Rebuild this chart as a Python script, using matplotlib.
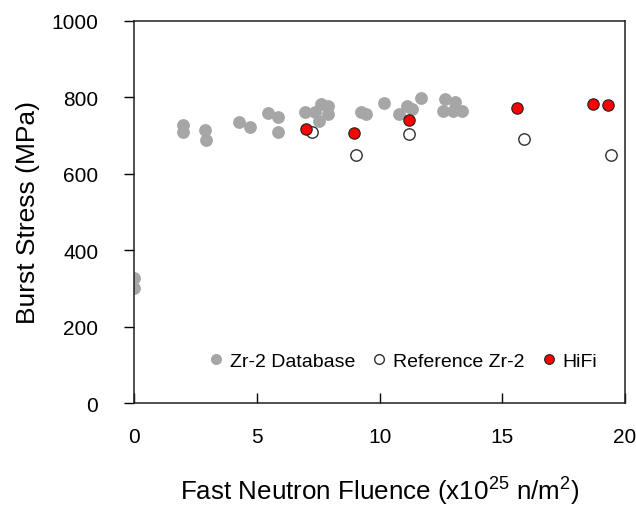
import matplotlib
matplotlib.use("Agg")
import matplotlib.pyplot as plt

fam = ['Liberation Sans', 'DejaVu Sans']
plt.rcParams['font.family'] = fam
plt.rcParams['mathtext.fontset'] = 'custom'
plt.rcParams['mathtext.rm'] = 'Liberation Sans'
plt.rcParams['mathtext.default'] = 'regular'

# Zr-2 database
db_x = [0.0, 0.0, 1.97, 1.97, 2.88, 2.92, 4.28, 4.72, 5.44, 5.85, 5.85,
        6.96, 7.36, 7.6, 7.91, 7.91, 7.54, 9.24, 9.44, 10.18, 10.77, 11.1,
        11.3, 11.67, 12.67, 13.07, 12.6, 13.0, 13.35]
db_y = [326, 300, 727, 709, 714, 688, 735, 721, 758, 747, 708,
        762, 760, 782, 777, 756, 738, 760, 755, 784, 756, 777,
        769, 797, 795, 788, 764, 764, 764]
# Reference Zr-2
ref_x = [7.23, 9.04, 11.2, 15.9, 19.43]
ref_y = [709, 648, 703, 690, 648]
# HiFi
hifi_x = [7.0, 8.96, 11.21, 15.61, 18.71, 19.32]
hifi_y = [716, 706, 741, 771, 782, 779]

fig = plt.figure(figsize=(6.36, 5.10), dpi=100)
ax = fig.add_axes([0.2112, 0.2078, 0.9827 - 0.2112, 0.9575 - 0.2078])

ax.plot(db_x, db_y, 'o', ms=8.2, color='#a6a6a6', mec='#a6a6a6', label='Zr-2 Database')
ax.plot(ref_x, ref_y, 'o', ms=8.2, mfc='white', mec='#303030', mew=1.0, label='Reference Zr-2')
ax.plot(hifi_x, hifi_y, 'o', ms=8.2, mfc='#ff0000', mec='#202020', mew=0.8, label='HiFi')

ax.set_xlim(0, 20)
ax.set_ylim(0, 1000)
ax.set_xticks([0, 5, 10, 15, 20])
ax.set_yticks([0, 200, 400, 600, 800, 1000])
ax.tick_params(axis='x', direction='in', length=7, width=1, pad=17, labelsize=15)
ax.tick_params(axis='y', direction='out', length=7, width=1, pad=19, labelsize=15)
for s in ax.spines.values():
    s.set_linewidth(1.1)
    s.set_color('#202020')

ax.set_ylabel('Burst Stress (MPa)', fontsize=19, labelpad=8)
ax.set_xlabel(r'Fast Neutron Fluence (x10$^{25}$ n/m$^{2}$)', fontsize=18.7, labelpad=21)

leg = ax.legend(loc='center', bbox_to_anchor=(0.548, 0.11), ncol=3, frameon=False,
                fontsize=14, handlelength=0.7, handletextpad=0.35, columnspacing=0.9,
                markerscale=0.85, borderaxespad=0, borderpad=0)

fig.savefig('out.png', dpi=100)
